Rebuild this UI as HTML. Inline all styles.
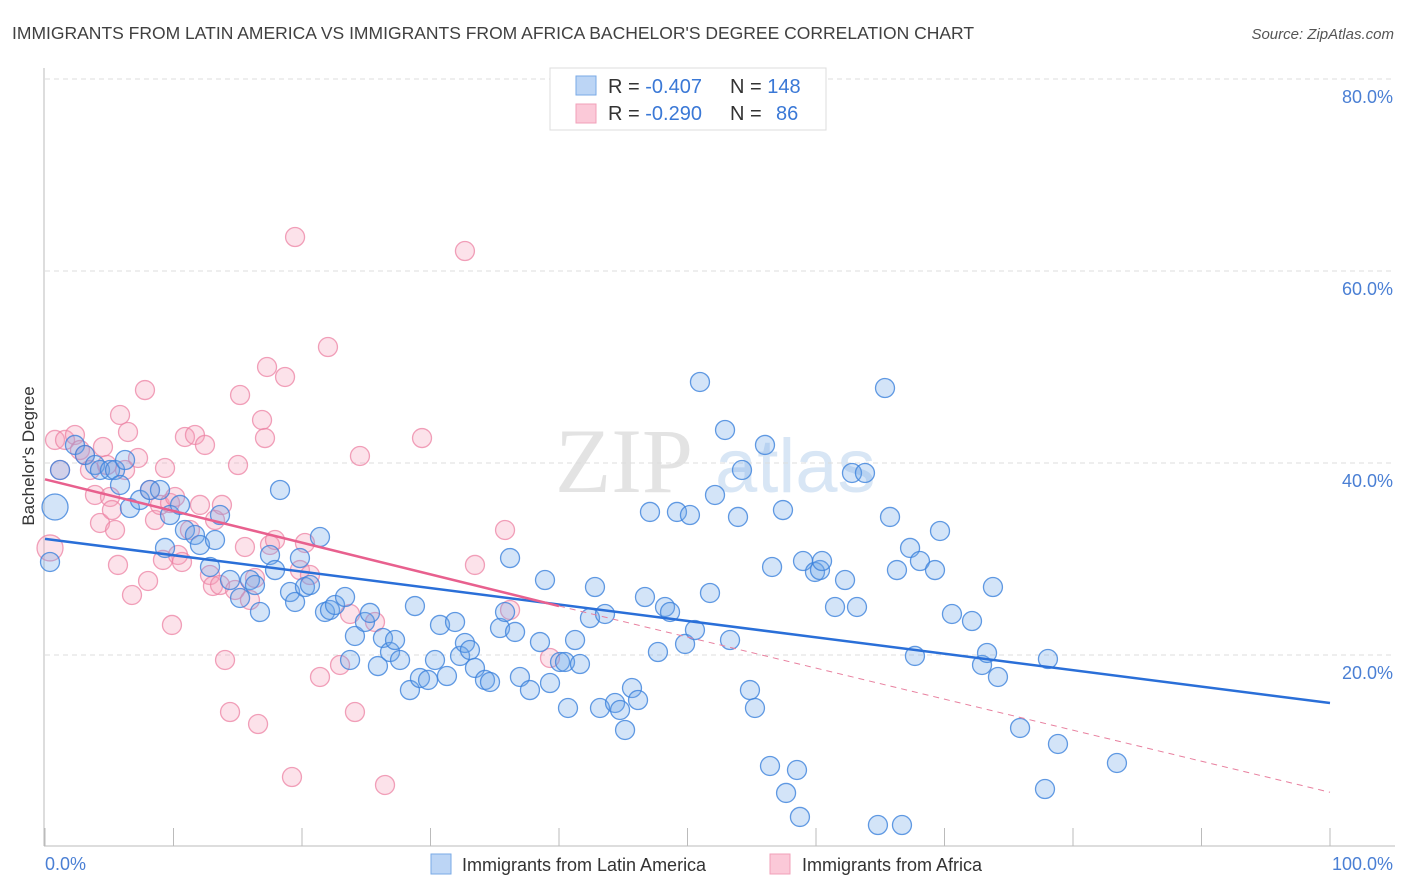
<!DOCTYPE html>
<html><head><meta charset="utf-8"><style>
body{margin:0;background:#fff;font-family:"Liberation Sans",sans-serif}
svg{display:block}
</style></head><body>
<svg id="c" width="1406" height="892" xmlns="http://www.w3.org/2000/svg">
<text x="12" y="39" font-size="17.5" fill="#404040">IMMIGRANTS FROM LATIN AMERICA VS IMMIGRANTS FROM AFRICA BACHELOR'S DEGREE CORRELATION CHART</text>
<text x="1394" y="39" font-size="15" fill="#555" font-style="italic" text-anchor="end">Source: ZipAtlas.com</text>
<text transform="translate(34,456) rotate(-90)" font-size="17" fill="#333" text-anchor="middle">Bachelor's Degree</text>
<g><text x="555" y="492" font-size="92" fill="#ddd" font-family="Liberation Serif,serif" opacity="0.8">ZIP</text><text x="715" y="492" font-size="76" fill="#cfe0f3" opacity="0.8">atlas</text></g>
<g id="grid"></g><g id="axes"></g><g id="pts"></g><g id="trend"></g>
<g>
<rect x="550" y="68" width="276" height="62" fill="#fff" stroke="#ddd"/>
<rect x="576" y="76" width="20" height="19" fill="#bcd5f5" stroke="#7aaae6"/>
<rect x="576" y="104" width="20" height="19" fill="#fbc9d8" stroke="#f2a0b9"/>
<text x="608" y="93" font-size="20" fill="#333">R = <tspan fill="#3a78d6">-0.407</tspan><tspan x="730">N = </tspan><tspan fill="#3a78d6">148</tspan></text>
<text x="608" y="120" font-size="20" fill="#333">R = <tspan fill="#3a78d6">-0.290</tspan><tspan x="730">N = </tspan><tspan fill="#3a78d6" x="776">86</tspan></text>
</g>
<g>
<rect x="431" y="854" width="20" height="20" fill="#bcd5f5" stroke="#7aaae6"/>
<text x="462" y="871" font-size="18" fill="#333">Immigrants from Latin America</text>
<rect x="770" y="854" width="20" height="20" fill="#fbc9d8" stroke="#f2a0b9"/>
<text x="802" y="871" font-size="18" fill="#333">Immigrants from Africa</text>
</g>
</svg>
<script>
const yTicks=[20,40,60,80];
const yTickLabels=["20.0%","40.0%","60.0%","80.0%"];
const xTickVals=[0,10,20,30,40,50,60,70,80,90,100];
const xEndLabels=["0.0%","100.0%"];
const latinPx=[[55,507],[50,562],[60,470],[75,445],[85,455],[95,465],[100,470],[110,470],[115,470],[125,460],[120,485],[130,508],[140,500],[150,490],[160,490],[165,548],[170,515],[180,505],[185,530],[195,535],[200,545],[215,540],[210,567],[220,515],[230,580],[240,598],[250,580],[255,585],[260,612],[270,555],[275,570],[280,490],[290,592],[295,602],[300,558],[305,587],[310,585],[320,537],[325,612],[330,610],[335,605],[345,597],[350,660],[355,636],[365,622],[370,613],[378,666],[383,638],[390,652],[395,640],[400,660],[410,690],[415,606],[420,678],[428,680],[435,660],[440,625],[447,676],[455,622],[460,656],[465,643],[470,650],[475,668],[485,680],[490,682],[500,628],[505,612],[510,558],[515,632],[520,677],[530,690],[540,642],[545,580],[550,683],[560,662],[565,662],[568,708],[575,640],[580,664],[590,618],[595,587],[600,708],[605,614],[615,703],[620,710],[625,730],[632,688],[638,700],[645,597],[650,512],[658,652],[665,607],[670,612],[677,512],[685,644],[690,515],[695,630],[700,382],[710,593],[715,495],[725,430],[730,640],[738,517],[742,470],[750,690],[755,708],[765,445],[770,766],[772,567],[783,510],[786,793],[797,770],[800,817],[803,561],[815,572],[820,570],[822,561],[835,607],[845,580],[852,473],[857,607],[865,473],[878,825],[885,388],[890,517],[897,570],[902,825],[910,548],[915,656],[920,561],[935,570],[940,531],[952,614],[972,621],[982,665],[987,653],[993,587],[998,677],[1020,728],[1045,789],[1048,659],[1058,744],[1117,763]];
const africaPx=[[50,548],[55,440],[60,470],[65,440],[75,435],[80,450],[85,455],[90,470],[95,495],[100,523],[103,447],[107,465],[110,497],[112,510],[115,530],[118,565],[120,415],[125,470],[128,432],[132,595],[138,458],[145,390],[148,581],[150,490],[155,520],[160,505],[163,560],[165,468],[170,503],[172,625],[175,497],[178,555],[182,562],[185,437],[190,530],[195,435],[200,505],[205,445],[210,575],[213,586],[215,520],[220,585],[222,505],[225,660],[230,712],[235,590],[238,465],[240,395],[245,547],[250,600],[255,578],[258,724],[262,420],[265,438],[267,367],[270,545],[275,540],[285,377],[292,777],[295,237],[300,570],[305,543],[310,575],[320,677],[328,347],[340,665],[350,614],[355,712],[360,456],[375,622],[385,785],[422,438],[465,251],[475,565],[505,530],[510,610],[550,658]];
// convert estimated pixel readings to data values (x %, y %)
const latinX=latinPx.map(p=>+((p[0]-45)/12.85).toFixed(2));
const latinY=latinPx.map(p=>+((847-p[1])/9.6).toFixed(2));
const africaX=africaPx.map(p=>+((p[0]-45)/12.85).toFixed(2));
const africaY=africaPx.map(p=>+((847-p[1])/9.6).toFixed(2));
const latinTrend=[32.1,15.0];
const africaTrend=[38.3,25.1,5.7];

const NS="http://www.w3.org/2000/svg";
const X=v=>45+v*12.85, Y=v=>847-v*9.6;
function mk(tag,attrs,parent){const e=document.createElementNS(NS,tag);for(const k in attrs)e.setAttribute(k,attrs[k]);parent.appendChild(e);return e;}
const grid=document.getElementById('grid'),axes=document.getElementById('axes'),pts=document.getElementById('pts'),tr=document.getElementById('trend');
yTicks.forEach((t,i)=>{
 const l=mk('line',{x1:45,x2:1395,y1:Y(t),y2:Y(t),stroke:'#ddd','stroke-dasharray':'5,4'},grid);
 
 
 const tx=mk('text',{x:1393,y:Y(t)+24,'font-size':18,fill:'#4a7fd4','text-anchor':'end'},axes);
 tx.textContent=yTickLabels[i];
 
 
});
const ya=mk('line',{x1:44,x2:44,y1:68,y2:846,stroke:'#bbb'},axes);


const xa=mk('line',{x1:44,x2:1395,y1:846,y2:846,stroke:'#bbb'},axes);


xTickVals.forEach(v=>{
 const t=mk('line',{x1:X(v),x2:X(v),y1:828,y2:846,stroke:'#bbb'},axes);
 
 
});
const x0=mk('text',{x:45,y:870,'font-size':18,fill:'#4a7fd4'},axes);x0.textContent=xEndLabels[0];


const x1=mk('text',{x:1393,y:870,'font-size':18,fill:'#4a7fd4','text-anchor':'end'},axes);x1.textContent=xEndLabels[1];


function dots(xs,ys,fill,stroke,name){
 xs.forEach((x,i)=>{
  const r=i===0?13:9.5;
  const c=mk('circle',{cx:X(x),cy:Y(ys[i]),r:r,fill:fill,stroke:stroke,'stroke-width':1.3},pts);
  
  
 });
}
dots(africaX,africaY,'rgba(244,160,186,0.3)','rgba(236,130,163,0.75)','point-africa');
dots(latinX,latinY,'rgba(110,165,232,0.3)','rgba(60,130,220,0.8)','point-latin-america');
const bl=mk('line',{x1:X(0),y1:Y(latinTrend[0]),x2:X(100),y2:Y(latinTrend[1]),stroke:'#2a6fd8','stroke-width':2.5},tr);


const pl=mk('line',{x1:X(0),y1:Y(africaTrend[0]),x2:X(40),y2:Y(africaTrend[1]),stroke:'#e8608e','stroke-width':2.5},tr);


const pd=mk('line',{x1:X(40),y1:Y(africaTrend[1]),x2:X(100),y2:Y(africaTrend[2]),stroke:'#e8809f','stroke-width':1,'stroke-dasharray':'6,5'},tr);


</script>
</body></html>
